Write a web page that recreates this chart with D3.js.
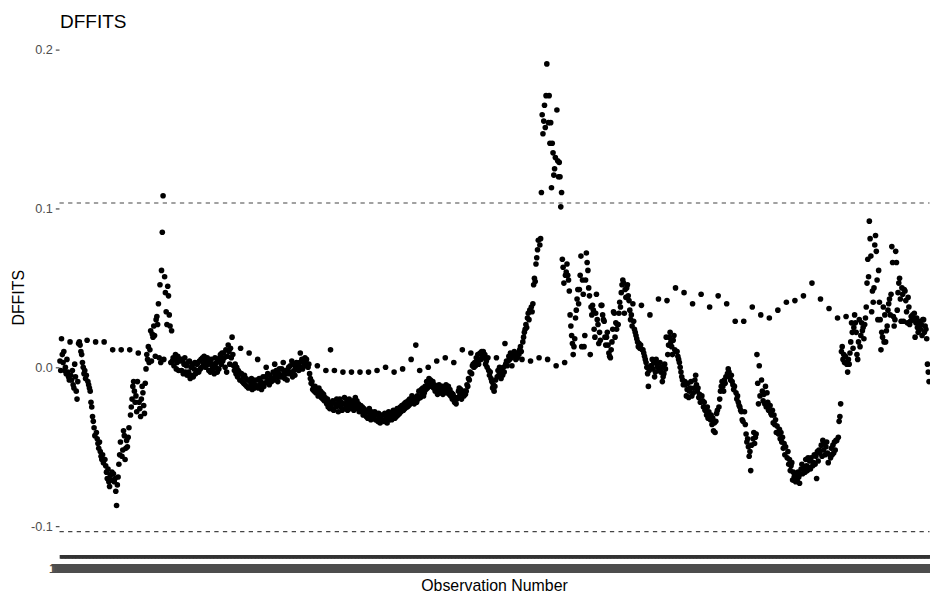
<!DOCTYPE html>
<html>
<head>
<meta charset="utf-8">
<script src="https://cdn.jsdelivr.net/npm/d3@7/dist/d3.min.js"></script>
<style>
  body { margin: 0; background: #ffffff; }
  svg text { font-family: "Liberation Sans", Arial, Helvetica, sans-serif; }
</style>
</head>
<body>
<svg id="chart" width="930" height="597"></svg>
<script>
// DFFITS for each observation of the fitted model.
// Every 11th observation (from the 3rd on) belongs to the evenly spaced group.
const spacedSeries = [
  .018, .016, .015, .017, .016, .016, .011, .011, .011, .009,
  .008, .007, .005, .004, .005, .004, .003, .004, .006, .009,
  .019, .012, .009, .005, .000, .002, .003, .004, .009, .002,
  .001, -.002, -.002, -.003, -.003, -.003, -.003, -.002, .000, -.003,
  -.001, .005, -.002, .000, .004, .006, .003, .011, .009, .005,
  .006, .006, .015, .008, .005, .004, .006, .005, .001, .003,
  .008, .013, .008, .015, .022, .028, .034, .040, .039, .033,
  .043, .042, .050, .047, .040, .046, .038, .045, .040, .029,
  .029, .038, .033, .031, .036, .041, .042, .045, .053, .043,
  .037, .031, .032, .033, .025, .035, .030, .040, .036, .042,
  .034, .030
];

// All remaining observations, in order.
const mainSeries = [
  .004, -.002,
  .008, .003, .010, -.002, .000, -.004, .005, -.003, -.006, -.008,
  -.005, -.008, -.002, -.011, -.013, .002, -.006, -.015, -.020, -.009,
  .016, .014, .010, .008, .003, .000, -.004, -.002, -.007, -.005,
  -.009, -.011, -.013, -.015, -.022, -.025, -.031, -.034, -.038, -.043,
  -.041, -.045, -.048, -.051, -.047, -.053, -.056, -.058, -.055, -.060,
  -.058, -.062, -.066, -.070, -.064, -.072, -.075, -.068, -.071, -.066,
  -.067, -.072, -.070, -.078, -.087, -.074, -.069, -.061, -.055, -.047,
  -.056, -.052, -.040, -.043, -.058, -.051, -.046, -.050, -.044, -.038,
  -.030, -.025, -.020, -.012, -.009, -.015, -.022, -.018, -.028,
  -.009, -.022, -.026, -.031, -.020, -.012, -.016, -.024, -.029, -.010,
  -.001, .005, .013, .003, .011, .023, .004, .021, .019, .026,
  .020, .030, .032, .027, .040, .006, .052, .003, .061, .085,
  .108, .057, .047, .035, .027, .051, .045, .033, .026, .003,
  .023, .006, .001, .005, .008, -.001, .003, .007, -.002, .004,
  .005, -.002, .004, -.004, .002, .006, -.003, .001, -.005, .003,
  -.003, -.007, .000, -.005, .002, -.006, -.001, .003, -.004, -.002,
  .002, -.003, .004, -.001, .005, .000, .006, .002, .007,
  .004, .000, .006, .002, -.002, .003, -.003, .005, .001, -.001,
  .002, -.004, .000, .003, -.003, .004, -.001, .006, .008, .002,
  .009, .004, .006, .000, .011, -.003, .007, .014, .010, .002,
  .012, .006, .008, .001, -.002, .002, -.004, .000, -.006, -.002,
  -.003, -.008, -.004, -.009, -.006, -.010, -.005, -.011, -.007, -.012,
  -.008, -.013, -.009, -.012, -.007, -.014, -.010, -.008, -.013, -.011,
  -.012, -.008, -.013, -.007, -.011, -.009, -.014, -.010, -.006, -.012,
  -.010, -.006, -.009, -.004, -.008, -.011, -.005, -.007, -.009,
  -.007, -.003, -.008, -.005, -.002, -.006, -.009, -.004, -.001, -.006,
  -.005, -.001, -.006, -.003, -.007, -.002, -.004, -.008, -.003, .000,
  -.004, .001, -.003, -.006, .002, -.002, -.005, .000, .003, -.001,
  .001, -.002, .003, .000, .005, -.001, .004, .002, .006, .001,
  .005, .002, .000, -.004, -.007, -.010, -.009, -.014, -.012, -.015,
  -.012, -.016, -.014, -.018, -.013, -.017, -.015, -.019, -.016, -.020,
  -.017, -.021, -.019, -.023, -.020, -.025, -.022, -.026, .011, -.023,
  -.026, -.021, -.027, -.023, -.025, -.020, -.024, -.028, -.022,
  -.020, -.025, -.022, -.027, -.023, -.019, -.026, -.024, -.021, -.027,
  -.024, -.020, -.026, -.022, -.025, -.021, -.027, -.023, -.019, -.025,
  -.021, -.026, -.023, -.028, -.024, -.027, -.025, -.030, -.026, -.029,
  -.027, -.031, -.028, -.032, -.026, -.030, -.033, -.028, -.031, -.029,
  -.031, -.028, -.033, -.030, -.034, -.029, -.032, -.035, -.030, -.033,
  -.033, -.030, -.034, -.029, -.032, -.035, -.031, -.028, -.033, -.030,
  -.029, -.033, -.030, -.027, -.032, -.028, -.031, -.026, -.030, -.027,
  -.029, -.025, -.028, -.024, -.027, -.023, -.026, -.022, -.025,
  -.025, -.021, -.024, -.020, -.023, -.018, -.022, -.019, -.023, -.020,
  .014, -.022, -.018, -.020, -.015, -.019, -.014, -.017, -.013, -.018,
  -.016, -.012, -.014, -.009, -.013, -.007, -.011, -.008, -.012, -.010,
  -.009, -.013, -.011, -.015, -.012, -.017, -.014, -.011, -.016, -.013,
  -.016, -.012, -.017, -.013, -.015, -.011, -.016, -.014, -.012, -.017,
  -.014, -.018, -.016, -.020, -.017, -.022, -.019, -.023, -.020,
  -.019, -.015, -.013, -.017, -.014, -.020, -.016, -.018, -.015, -.017,
  -.015, -.011, -.012, -.007, -.008, -.003, -.004, .001, .002, .000,
  .003, .001, .006, .004, .008, .002, .009, .005, .010, .007,
  .010, .006, .008, .002, .004, .000, -.002, -.005, -.003, -.007,
  -.009, -.013, -.011, -.015, -.012, -.008, -.006, -.002, -.005, .000,
  -.003, -.007, -.002, -.005, .000, -.003, .002, .004, .001,
  .004, .007, .005, .009, .006, .001, .008, .010, .007, .005,
  .007, .006, .009, .008, .011, .013, .010, .016, .019, .022,
  .024, .027, .025, .031, .034, .030, .036, .038, .035, .040,
  .052, .056, .054, .065, .069, .074, .080, .077, .081, .110,
  .159, .147, .155, .165, .151, .171, .191, .154, .171, .141,
  .154, .113, .141, .135, .121, .125, .132, .162, .130, .120,
  .129, .120, .101, .110, .068, .063, .053, .058, .060, .065,
  .058, .055, .048, .033, .026, .020, .015, .013, .018,
  .031, .036, .043, .049, .040, .049, .058, .070, .055, .046,
  .013, .020, .055, .072, .066, .061, .050, .045, .038, .033,
  .039, .036, .024, .019, .034, .046, .030, .027, .022, .017,
  .039, .039, .033, .030, .029, .019, .014, .019, .014, .009,
  .007, .006, .011, .016, .024, .035, .034, .019, .024, .027,
  .027, .034, .041, .038, .047, .052, .055, .053, .049, .044,
  .050, .052, .045, .042, .036, .030, .033, .026, .029, .024,
  .022, .020, .018, .016, .013, .015, .012, .014, .011,
  .011, .009, .007, .005, .003, .000, -.004, -.012, -.002, .001,
  .001, .005, -.001, .003, -.006, -.003, .005, .002, .000, -.002,
  .003, -.003, .000, -.009, -.006, -.004, .002, -.001, .019, .008,
  .014, .019, .022, .016, .013, .008, .017, .020, .011, .010,
  .010, .007, .005, .003, .000, -.003, -.006, -.008, -.011, -.009,
  -.011, -.018, -.014, -.010, -.019, -.015, -.013, -.009, -.018, -.016,
  -.013, -.008, -.005, -.011, -.015, -.013, -.019, -.017, -.022, -.018,
  -.021, -.025, -.022, -.027, -.026, -.030, -.025, -.032, -.028,
  -.033, -.030, -.036, -.032, -.040, -.035, -.041, -.034, -.029, -.027,
  -.025, -.020, -.015, -.012, -.009, -.012, -.015, -.008, -.010, -.006,
  -.004, -.001, -.003, -.006, -.008, -.005, -.009, -.011, -.014, -.012,
  -.016, -.020, -.018, -.022, -.024, -.025, -.027, -.028, -.033, -.034,
  -.028, -.036, -.042, -.047, -.045, -.050, -.056, -.053, -.065, -.049,
  -.045, -.041, -.048, -.044, -.042, .008, -.010, -.023, .001, -.018,
  -.008, -.015, -.021, -.017, -.023, -.012, -.025, -.016, -.022, -.027,
  -.024, -.029, -.030, -.027, -.035, -.030, -.036, -.033, -.041, -.037,
  -.042, -.039, -.045, -.041, -.047, -.044, -.051, -.048, -.055, -.050,
  -.057, -.053, -.061, -.058, -.065, -.062, -.060, -.071, -.066, -.069,
  -.072, -.068, -.071, -.066, -.069, -.073, -.067, -.064, -.061, -.067,
  -.063, -.066, -.058, -.062, -.065, -.057, -.063, -.059, -.064,
  -.057, -.062, -.060, -.055, -.061, -.056, -.070, -.053, -.059, -.052,
  -.054, -.049, -.056, -.046, -.052, -.048, -.055, -.050, -.047, -.054,
  -.060, -.055, -.057, -.051, -.055, -.049, -.054, -.047, -.052, -.046,
  -.046, -.044, -.034, -.031, -.023, .010, .013, .005, .008, .003,
  .007, .002, -.003, .005, .002, .009, .016, .028, .022, .012,
  .025, .028, .022, .008, .005, .016, .030, .013, .020,
  .028, .023, .018, .027, .031, .038, .053, .068, .057, .092,
  .081, .070, .048, .041, .050, .077, .083, .073, .055, .030,
  .061, .041, .011, .022, .019, .038, .016, .033, .016, .023,
  .026, .036, .043, .033, .046, .076, .066, .032, .026, .030,
  .073, .066, .047, .053, .056, .043, .029, .050, .046, .029,
  .049, .048, .035, .028, .044, .038, .027, .029, .032,
  .032, .033, .030, .019, .028, .031, .025, .022, .029, .027,
  .024, .027, .020, .030, .022, .026, .024, .018, .002, -.003,
  -.009
];

const leadIn = 2;          // observations before the first evenly spaced one
const groupSize = 10;      // observations between two evenly spaced ones
const nPredictors = 3;     // parameters in the model (for the cutoff)

const yTickValues = [-0.1, 0.0, 0.1, 0.2];
const yTickLabels = ["-0.1", "0.0", "0.1", "0.2"];

const titleText = "DFFITS";
const xTitle = "Observation Number";
const yTitle = "DFFITS";

// Merge both groups back into observation order.
const dffits = mainSeries.slice(0, leadIn);
spacedSeries.forEach((v, k) => {
  dffits.push(v);
  const start = leadIn + k * groupSize;
  dffits.push(...mainSeries.slice(start, start + groupSize));
});
const n = dffits.length;

// Observation ids used as a factor, sorted as strings.
const obsIds = d3.range(1, n + 1).map(String).sort();
const points = dffits.map((v, i) => ({ id: obsIds[i], value: v }));

const cutoff = 2 * Math.sqrt(nPredictors / n);

const panel = { left: 59.5, right: 929.5, top: 40.5, bottom: 555 };

const svg = d3.select("#chart");

const x = d3.scalePoint()
  .domain(obsIds)
  .range([panel.left, panel.right])
  .padding(0.6);

const lo = Math.min(d3.min(dffits), -cutoff);
const hi = Math.max(d3.max(dffits), cutoff);
const pad = (hi - lo) * 0.05;
const y = d3.scaleLinear()
  .domain([lo - pad, hi + pad])
  .range([panel.bottom, panel.top]);

// Cutoff lines at +/- 2*sqrt(p/n)
svg.append("g")
  .selectAll("line")
  .data([cutoff, -cutoff])
  .join("line")
  .attr("x1", panel.left)
  .attr("x2", panel.right)
  .attr("y1", d => y(d))
  .attr("y2", d => y(d))
  .attr("stroke", "#444")
  .attr("stroke-width", 1.1)
  .attr("stroke-dasharray", "4.3,4.3");

// Points
svg.append("g")
  .selectAll("circle")
  .data(points)
  .join("circle")
  .attr("cx", d => x(d.id))
  .attr("cy", d => y(d.value))
  .attr("r", 2.8)
  .attr("fill", "#000");

// X axis: one tick and label per observation
const xAxis = svg.append("g")
  .attr("transform", `translate(0,${panel.bottom})`)
  .call(d3.axisBottom(x).tickSize(3.7).tickPadding(4.8));
xAxis.select(".domain").remove();
xAxis.selectAll(".tick line").attr("stroke", "#333").attr("stroke-width", 1.6);
xAxis.selectAll(".tick text")
  .attr("fill", "#4D4D4D")
  .attr("font-size", 12.7)
  .attr("font-family", "Liberation Sans, Arial, sans-serif");

// Y axis
const yAxis = svg.append("g")
  .attr("transform", `translate(${panel.left},0)`)
  .call(d3.axisLeft(y)
    .tickValues(yTickValues)
    .tickFormat((d, i) => yTickLabels[i])
    .tickSize(3.7)
    .tickPadding(3));
yAxis.select(".domain").remove();
yAxis.selectAll(".tick line").attr("stroke", "#333").attr("stroke-width", 1.07);
yAxis.selectAll(".tick text")
  .attr("fill", "#4D4D4D")
  .attr("font-size", 12.7)
  .attr("font-family", "Liberation Sans, Arial, sans-serif");

// Titles
svg.append("text")
  .attr("x", panel.left + 0.5)
  .attr("y", 28)
  .attr("font-size", 19)
  .attr("fill", "#000")
  .text(titleText);

svg.append("text")
  .attr("x", (panel.left + panel.right) / 2)
  .attr("y", 591)
  .attr("text-anchor", "middle")
  .attr("font-size", 15.9)
  .attr("fill", "#000")
  .text(xTitle);

svg.append("text")
  .attr("transform", `translate(24,${(panel.top + panel.bottom) / 2}) rotate(-90)`)
  .attr("text-anchor", "middle")
  .attr("font-size", 15.9)
  .attr("fill", "#000")
  .text(yTitle);
</script>
</body>
</html>
